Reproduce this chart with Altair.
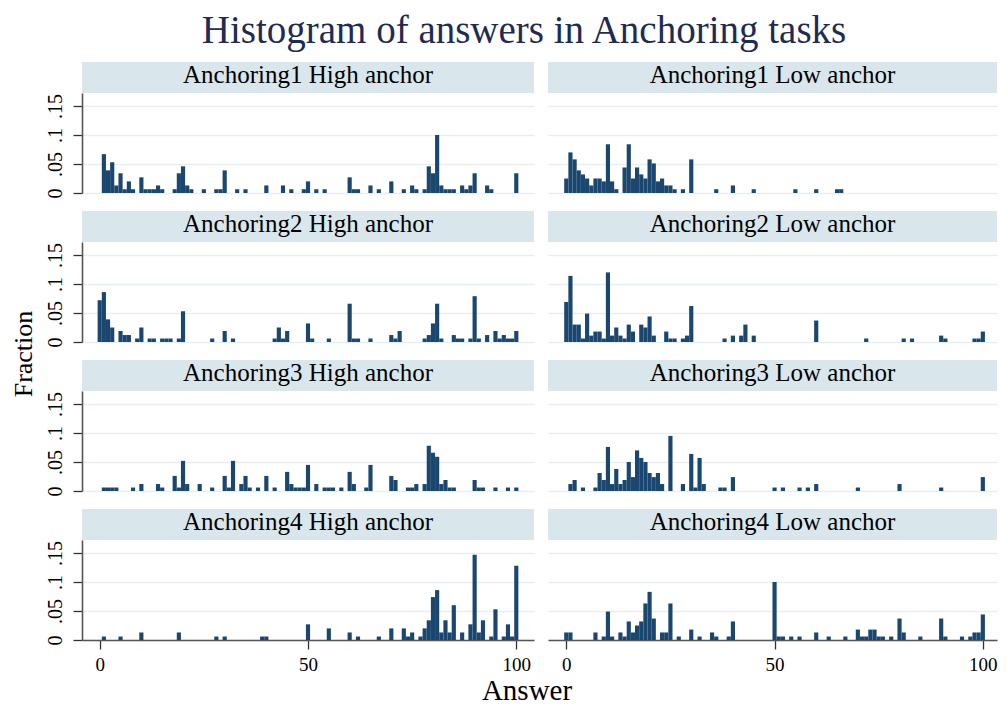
import altair as alt
import pandas as pd

# ---------------- data ----------------
panel_titles = [
    "Anchoring1 High anchor", "Anchoring1 Low anchor",
    "Anchoring2 High anchor", "Anchoring2 Low anchor",
    "Anchoring3 High anchor", "Anchoring3 Low anchor",
    "Anchoring4 High anchor", "Anchoring4 Low anchor",
]

a1_high_answer = [1, 2, 3, 4, 5, 6, 7, 8, 10, 11, 12, 13, 14, 15, 18, 19, 20, 21, 22, 25, 28, 29, 30, 33, 35,
                  40, 44, 46, 49, 50, 52, 54, 60, 61, 62, 65, 67, 70, 73, 75, 76, 78, 79, 80, 81, 82, 83, 84,
                  85, 87, 88, 89, 90, 93, 94, 100]
a1_high_fraction = [0.067, 0.039, 0.053, 0.013, 0.034, 0.0065, 0.020, 0.0065, 0.027, 0.0065, 0.0065, 0.0065,
                    0.013, 0.0065, 0.0065, 0.034, 0.046, 0.013, 0.0065, 0.0065, 0.0065, 0.0065, 0.039, 0.0065,
                    0.0065, 0.013, 0.013, 0.0065, 0.0065, 0.020, 0.0065, 0.0065, 0.027, 0.0065, 0.0065, 0.013,
                    0.0065, 0.020, 0.0065, 0.013, 0.0065, 0.0065, 0.046, 0.034, 0.100, 0.013, 0.0065, 0.0065,
                    0.0065, 0.013, 0.0065, 0.013, 0.034, 0.013, 0.0065, 0.034]

a1_low_answer = [0, 1, 2, 3, 4, 5, 6, 7, 8, 9, 10, 11, 12, 14, 15, 16, 17, 18, 19, 20, 21, 22, 23, 24, 25, 26,
                 28, 30, 36, 40, 45, 55, 60, 65, 66]
a1_low_fraction = [0.025, 0.070, 0.058, 0.039, 0.032, 0.025, 0.013, 0.025, 0.025, 0.020, 0.084, 0.020, 0.0065,
                   0.044, 0.084, 0.025, 0.044, 0.032, 0.025, 0.058, 0.051, 0.020, 0.025, 0.013, 0.013, 0.0065,
                   0.0065, 0.058, 0.0065, 0.013, 0.0065, 0.0065, 0.0065, 0.0065, 0.0065]

a2_high_answer = [0, 1, 2, 3, 5, 6, 7, 9, 10, 12, 13, 15, 16, 17, 19, 20, 27, 30, 32, 42, 43, 44, 45, 50, 51,
                  55, 60, 61, 62, 65, 70, 71, 72, 78, 79, 80, 81, 82, 85, 86, 87, 89, 90, 91, 93, 95, 96, 97,
                  98, 99, 100]
a2_high_fraction = [0.072, 0.086, 0.039, 0.025, 0.019, 0.012, 0.012, 0.006, 0.025, 0.006, 0.006, 0.006, 0.006,
                    0.006, 0.006, 0.053, 0.006, 0.019, 0.006, 0.006, 0.025, 0.006, 0.019, 0.032, 0.006, 0.006,
                    0.066, 0.006, 0.006, 0.006, 0.012, 0.006, 0.019, 0.006, 0.012, 0.032, 0.066, 0.006, 0.012,
                    0.006, 0.006, 0.006, 0.079, 0.006, 0.012, 0.019, 0.006, 0.012, 0.006, 0.006, 0.019]

a2_low_answer = [0, 1, 2, 3, 4, 5, 6, 7, 8, 9, 10, 11, 12, 13, 14, 15, 16, 18, 19, 20, 21, 24, 25, 26, 28, 29,
                 30, 38, 40, 42, 43, 45, 60, 72, 81, 83, 90, 91, 98, 99, 100]
a2_low_fraction = [0.069, 0.114, 0.030, 0.030, 0.006, 0.049, 0.011, 0.018, 0.018, 0.006, 0.120, 0.011, 0.025,
                   0.011, 0.006, 0.030, 0.018, 0.030, 0.025, 0.044, 0.011, 0.018, 0.006, 0.006, 0.006, 0.011,
                   0.062, 0.006, 0.011, 0.011, 0.030, 0.011, 0.037, 0.006, 0.006, 0.006, 0.011, 0.006, 0.006,
                   0.006, 0.018]

a3_high_answer = [1, 2, 3, 4, 8, 10, 14, 15, 18, 19, 20, 21, 24, 27, 30, 31, 32, 34, 35, 36, 38, 40, 42, 45, 46,
                  47, 48, 49, 50, 52, 54, 55, 56, 58, 60, 61, 64, 65, 70, 71, 74, 75, 76, 78, 79, 80, 81, 82,
                  83, 84, 85, 90, 91, 92, 95, 98, 100]
a3_high_fraction = [0.006, 0.006, 0.006, 0.006, 0.006, 0.012, 0.012, 0.006, 0.026, 0.006, 0.052, 0.012, 0.012,
                    0.006, 0.026, 0.006, 0.052, 0.012, 0.026, 0.006, 0.006, 0.026, 0.006, 0.033, 0.012, 0.006,
                    0.006, 0.006, 0.045, 0.012, 0.006, 0.006, 0.006, 0.006, 0.033, 0.012, 0.006, 0.045, 0.026,
                    0.019, 0.006, 0.006, 0.012, 0.012, 0.078, 0.066, 0.059, 0.012, 0.019, 0.006, 0.006, 0.019,
                    0.006, 0.006, 0.006, 0.006, 0.006]

a3_low_answer = [1, 2, 4, 7, 8, 9, 10, 11, 12, 13, 14, 15, 16, 17, 18, 19, 20, 21, 22, 23, 25, 28, 30, 31, 32,
                 33, 37, 38, 40, 50, 52, 56, 58, 60, 70, 80, 90, 100]
a3_low_fraction = [0.012, 0.019, 0.006, 0.006, 0.031, 0.019, 0.076, 0.012, 0.038, 0.012, 0.019, 0.050, 0.024,
                   0.070, 0.057, 0.050, 0.031, 0.024, 0.031, 0.012, 0.095, 0.012, 0.064, 0.006, 0.057, 0.012,
                   0.006, 0.006, 0.024, 0.006, 0.006, 0.006, 0.006, 0.012, 0.006, 0.012, 0.006, 0.024]

a4_high_answer = [1, 5, 10, 19, 28, 30, 39, 40, 50, 55, 60, 62, 67, 70, 73, 74, 75, 77, 78, 79, 80, 81, 82, 83,
                  84, 85, 87, 89, 90, 91, 92, 94, 95, 97, 98, 99, 100]
a4_high_fraction = [0.006, 0.006, 0.013, 0.013, 0.006, 0.006, 0.006, 0.006, 0.027, 0.020, 0.013, 0.006, 0.006,
                    0.020, 0.020, 0.006, 0.013, 0.006, 0.020, 0.034, 0.074, 0.086, 0.013, 0.034, 0.013, 0.060,
                    0.013, 0.027, 0.147, 0.013, 0.034, 0.006, 0.053, 0.006, 0.027, 0.006, 0.128]

a4_low_answer = [0, 1, 7, 9, 10, 11, 13, 14, 15, 16, 17, 18, 19, 20, 21, 23, 24, 25, 27, 30, 32, 35, 36, 39, 40,
                 50, 51, 52, 54, 56, 60, 63, 67, 70, 71, 72, 73, 74, 75, 76, 78, 80, 81, 85, 90, 91, 95, 97,
                 98, 99, 100]
a4_low_fraction = [0.013, 0.013, 0.013, 0.006, 0.049, 0.006, 0.013, 0.006, 0.032, 0.013, 0.025, 0.032, 0.063,
                   0.083, 0.037, 0.013, 0.013, 0.063, 0.006, 0.018, 0.006, 0.013, 0.006, 0.006, 0.032, 0.100,
                   0.006, 0.006, 0.006, 0.006, 0.013, 0.006, 0.006, 0.018, 0.006, 0.006, 0.018, 0.018, 0.006,
                   0.006, 0.006, 0.037, 0.013, 0.006, 0.037, 0.006, 0.006, 0.006, 0.013, 0.013, 0.044]

answers = [a1_high_answer, a1_low_answer, a2_high_answer, a2_low_answer,
           a3_high_answer, a3_low_answer, a4_high_answer, a4_low_answer]
fractions = [a1_high_fraction, a1_low_fraction, a2_high_fraction, a2_low_fraction,
             a3_high_fraction, a3_low_fraction, a4_high_fraction, a4_low_fraction]

y_tick_values = [0, 0.05, 0.1, 0.15]
y_tick_labels = ["0", ".05", ".1", ".15"]
x_tick_values = [0, 50, 100]

main_title = "Histogram of answers in Anchoring tasks"
y_title = "Fraction"
x_title = "Answer"

# ---------------- style ----------------
NAVY = "#1a476f"
STRIP = "#d9e6ec"
GRID = "#e7eef2"
AXIS = "#555555"
TITLE_COLOR = "#1e2c54"
FONT = "Liberation Serif"
H = 100
STRIP_H = 31
W_LEFT, W_RIGHT = 452, 449
DOM_LEFT = [-4.25, 104.25]
DOM_RIGHT = [-4.39, 103.4]

label_expr = " : ".join(
    f"abs(datum.value - {v}) < 1e-9 ? '{l}'" for v, l in zip(y_tick_values, y_tick_labels)
) + " : ''"

one = pd.DataFrame({"k": [0]})


def panel(i):
    left = i % 2 == 0
    bottom = i >= 6
    W = W_LEFT if left else W_RIGHT
    dom = DOM_LEFT if left else DOM_RIGHT
    df = pd.DataFrame({"answer": answers[i], "fraction": fractions[i]})
    df["lo"] = df["answer"] - 0.5
    df["hi"] = df["answer"] + 0.5

    if bottom:
        xaxis = alt.Axis(values=x_tick_values, format="d", grid=False, domain=True,
                         domainColor=AXIS, domainWidth=1.6, ticks=True, tickSize=9,
                         tickColor="#333333", tickWidth=1.3, labelFont=FONT, labelFontSize=19,
                         labelColor="black", labelPadding=6, labelFlush=False, title=None)
    else:
        xaxis = None

    if left:
        yaxis = alt.Axis(values=y_tick_values, labelExpr=label_expr, grid=True, gridColor=GRID,
                         gridWidth=1.3, domain=True, domainColor=AXIS, domainWidth=1.6,
                         ticks=True, tickSize=9, tickColor="#333333", tickWidth=1.3,
                         labelAngle=270, labelAlign="center", labelBaseline="alphabetic",
                         labelPadding=12, labelFont=FONT, labelFontSize=20, labelColor="black",
                         labelOverlap=False, labelFlush=False, title=None)
    else:
        yaxis = alt.Axis(values=y_tick_values, grid=True, gridColor=GRID, gridWidth=1.3,
                         domain=False, ticks=False, labels=False, title=None)

    bars = alt.Chart(df).mark_rect(color=NAVY).encode(
        x=alt.X("lo:Q", scale=alt.Scale(domain=dom, nice=False, zero=False), axis=xaxis),
        x2="hi:Q",
        y=alt.Y("fraction:Q", scale=alt.Scale(domain=[0, 0.1724], nice=False), axis=yaxis),
        y2=alt.datum(0),
    )
    strip = alt.Chart(one).mark_rect(color=STRIP).encode(
        x=alt.value(0), x2=alt.value(W), y=alt.value(-STRIP_H), y2=alt.value(0)
    )
    strip_text = alt.Chart(one).mark_text(
        font=FONT, fontSize=25, color="black", align="center", baseline="alphabetic"
    ).encode(x=alt.value(W / 2), y=alt.value(-10), text=alt.value(panel_titles[i]))

    layers = [bars, strip, strip_text]

    if i == 0:
        layers.append(alt.Chart(one).mark_text(
            font=FONT, fontSize=39, color=TITLE_COLOR, align="center", baseline="alphabetic"
        ).encode(x=alt.value(442), y=alt.value(-50), text=alt.value(main_title)))
    if i == 2:
        layers.append(alt.Chart(one).mark_text(
            font=FONT, fontSize=26, color="black", align="center", baseline="alphabetic", angle=270
        ).encode(x=alt.value(-50), y=alt.value(112), text=alt.value(y_title)))
    if i == 6:
        layers.append(alt.Chart(one).mark_text(
            font=FONT, fontSize=29, color="black", align="center", baseline="alphabetic"
        ).encode(x=alt.value(445), y=alt.value(160), text=alt.value(x_title)))

    return alt.layer(*layers).properties(width=W, height=H)


chart = alt.concat(
    *[panel(i) for i in range(8)],
    columns=2,
    spacing={"row": 49, "column": 14},
    bounds="flush",
).properties(
    padding={"left": 3, "top": 4, "right": 0, "bottom": 1},
    background="white",
).configure_view(stroke=None)

chart.save("out.html", embed_options={"renderer": "svg", "actions": False})
